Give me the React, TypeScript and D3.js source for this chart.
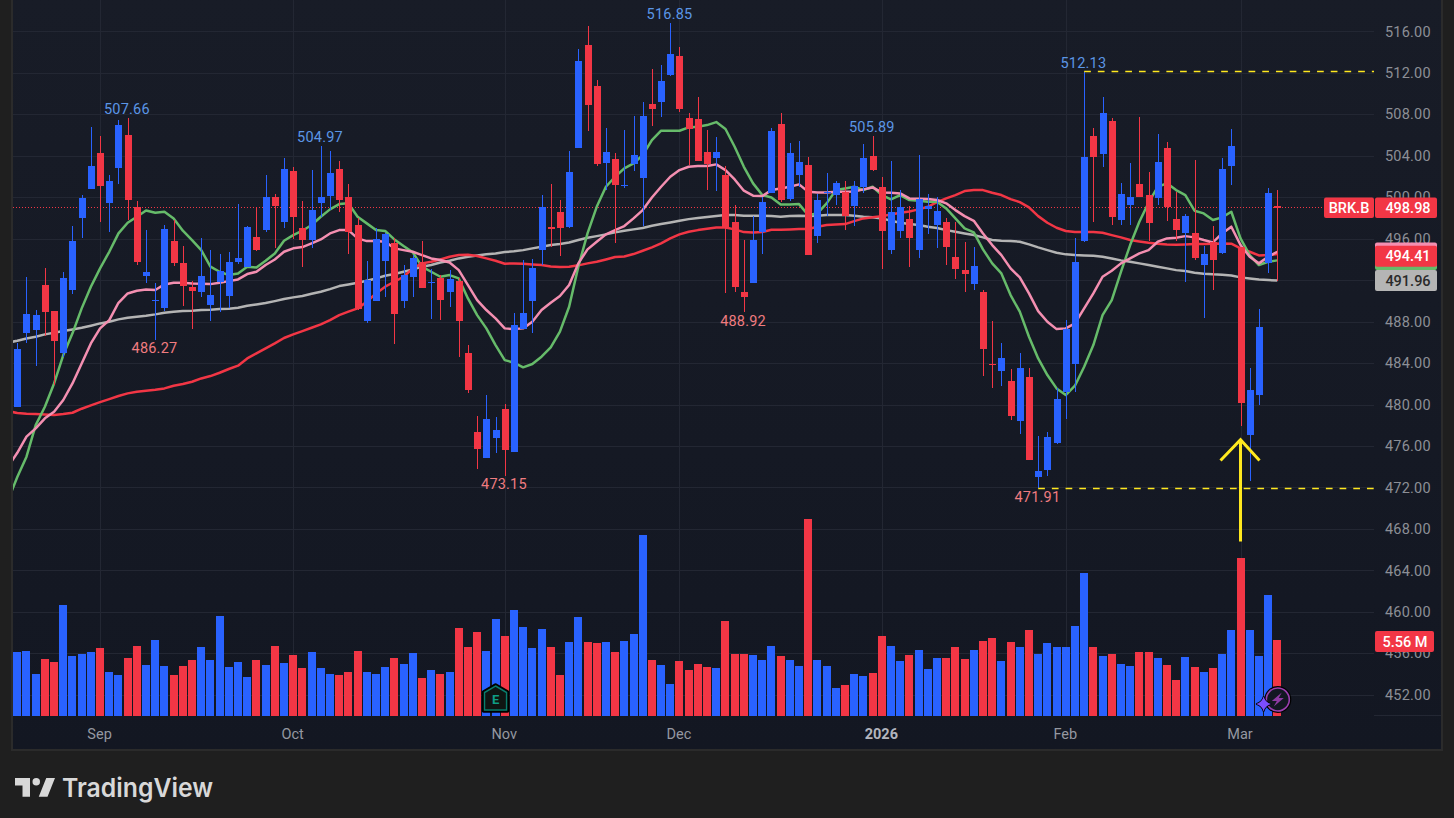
import * as d3 from "d3";
import { useEffect, useRef } from "react";

// daily candles
const opens = [479.79,486.93,487.22,491.53,488.99,485,491.08,498.02,500.82,504.23,499.47,502.85,505.97,499.02,492.43,490,489.34,495.74,493.62,491.3,490.89,489.63,491.85,490.5,493.78,493.3,496.13,496.83,499.98,497.64,502.49,496.99,495.9,499.47,500.15,502.69,499.98,497.28,488.09,490.02,493.88,495.55,490.02,492.33,493.71,491.75,492.24,490.89,491.88,484.94,477.32,474.87,476.8,479.53,475.45,487.32,490.02,494.94,497.09,498.54,497.16,504.78,514.65,510.69,503.33,503.65,501.1,503.23,501.88,508.96,509.21,511.82,513.59,507.61,507.51,504.33,503.81,502.11,497.57,490.82,491.75,496.67,500.37,507.03,499.86,502.17,503.07,496.29,500.43,500.24,500.47,499.18,500.95,503.94,500.95,494.94,496.77,497.86,494.94,498.89,497.35,497.57,494.2,492.94,491.66,490.82,483.95,483.26,482.24,478.44,482.62,473.04,473.72,476.32,481.24,483.94,495.8,505.87,504.13,507.32,497.83,499.28,501.24,500.18,499.95,504.71,497.86,496.58,496.51,493.49,495.64,494.65,502.97,495.16,477.09,480.95,493.68,499.2];
const highs = [485.9,492.27,489.12,493.14,488.99,492.75,497.19,500.18,506.77,505.9,502.11,507.41,507.66,499.6,496.8,491.69,497.28,497.8,495.26,491.91,496.03,494.87,494.49,494.68,499.31,497.19,499.02,502.11,500.27,503.75,502.88,499.6,502.59,504.97,504.42,503.46,501.24,497.96,493.81,496.99,496.51,496.03,493.43,494.39,495.74,493.04,492.46,492.94,492.17,485.71,478.89,480.89,478.76,480.02,488.8,493.91,494,500.18,501.24,499.7,504.42,514.26,516.48,511.27,506.64,504.23,506.45,507.8,509.15,512.33,512.72,516.85,514.45,508.09,509.63,506.45,505.77,502.97,499.21,495.84,498.15,499.98,506.64,508.09,505.19,505.39,503.84,500.34,502.3,501.53,501.53,501.53,505.1,505.89,501.91,503.46,500.66,499.12,504.04,500.27,499.98,497.96,497.57,495.64,495.16,491.02,488.02,485.9,483.39,484.94,483.49,476.93,477.32,481.62,488.12,496.03,512.13,506.64,509.63,507.61,501.33,503.26,507.7,502.4,506.06,505.29,500.47,498.34,503.55,495.26,497.19,503.75,506.54,495.16,483.49,489.18,500.85,500.66];
const lows = [479.79,485.9,483.75,486.64,481.88,484.62,490.66,496.06,500.82,497.64,496.67,501.3,497.8,493.46,491.75,486.27,489.02,493.39,489.53,487.32,490.4,488.09,488.96,489.34,493.59,493.23,494.84,496.67,495.1,497.03,496,493.3,495.13,498.12,498.76,498.6,494.52,489.12,487.9,490.02,490.4,485.87,489.34,490.4,491.27,488.28,488.18,489.44,484.62,481.14,473.81,474.87,475.35,473.15,475.45,487.32,486.87,493.43,495.23,494.29,497.06,504.78,506.42,502.97,500.66,495.61,500.85,502.56,497.25,506.9,507.7,511.66,508.25,503.07,503.52,500.72,500.63,490.72,490.89,488.92,491.75,494.55,500.37,499.57,499.6,501.01,494.45,495.61,498.22,499.28,496.87,497.25,500.43,502.56,493.04,494.55,496.09,493.23,494.16,496.48,495.13,493.43,492.07,490.82,491.02,482.78,481.62,481.82,478.54,477.19,474.68,471.91,473.14,476.22,478.63,481.24,495.71,497.64,502.94,497.35,497.35,497.35,499.98,495.74,499.28,497.73,495.74,491.85,493.91,488.38,491.02,494.55,501.21,477.96,472.65,479.98,492.65,491.88];
const closes = [485.35,488.73,488.6,488.96,486.16,492.2,495.74,499.89,502.97,501.11,501.53,506.93,499.76,493.78,492.75,490.1,496.9,493.68,491.46,490.98,492.36,490.53,492.85,493.71,494.1,497.09,494.9,499.98,499.18,502.69,498.12,495.9,498.73,499.98,502.3,499.76,496.67,489.18,492.01,495.93,496.45,488.76,492.46,494.1,491.27,491.83,490.11,492.07,488.09,481.43,475.74,478.57,477.54,475.64,487.64,488.8,493.14,499.02,496.96,497.06,502.4,513.1,508.92,503.23,504.33,501.21,501.18,504.04,507.8,508.54,511.17,513.78,508.54,506.61,503.52,503.23,504.33,496.99,491.37,490.4,495.84,499.5,506.35,499.76,504.23,503.36,494.45,499.7,500.51,501.33,498.22,501.05,503.75,502.65,496.77,498.54,499.02,496.09,499.79,499.18,498.63,495.23,493.1,492.62,493.33,485.39,483.87,484.45,478.92,483.49,474.68,473.55,476.83,480.5,487.25,493.71,503.84,503.84,508.09,498.06,500.27,499.98,499.98,497.54,503.36,499.02,496.87,498.15,494.1,494.49,493.97,502.69,504.9,480.18,481.37,487.44,500.37,498.98];
// volume in millions
const volumes = [4.68,4.76,3.07,4.17,3.95,8.12,4.39,4.54,4.68,4.98,3.22,3,4.24,5.12,3.73,5.56,3.66,3,3.66,4.1,5.05,4.1,7.32,3.59,3.95,2.85,4.1,3.73,5.12,3.88,4.46,3.51,4.68,3.51,3.07,3,3.22,4.76,3.22,3.07,3.59,4.24,3.8,4.61,2.78,3.37,3.07,3.22,6.44,5.05,6.15,4.76,7.1,5.85,7.76,6.51,4.98,6.37,5.05,3,5.41,7.24,5.41,5.34,5.41,4.68,5.49,6,13.24,4.1,3.73,2.34,4.02,3.37,3.8,3.59,3.51,6.95,4.54,4.54,4.46,4.1,5.12,4.39,4.1,3.66,14.41,4.1,3.66,2.05,2.27,3.07,2.93,3.15,5.85,5.12,4.02,4.46,4.83,3.44,4.24,4.24,5.05,4.17,4.83,5.49,5.71,4.02,5.41,5.05,6.29,4.54,5.34,5.05,5.05,6.59,10.46,5.05,4.39,4.54,3.8,3.66,4.68,4.68,4.24,3.73,2.63,4.32,3.59,3.22,3.51,4.54,6.29,11.56,6.29,4.39,8.85,5.56];

// moving averages, the first value sits one session left of the first candle
const maGreen = [470.79,473.01,474.97,478.02,479.79,482.04,484.78,486.87,489.28,491.37,493.14,494.74,496.51,497.54,498.12,498.73,498.51,498.6,497.96,496.77,495.87,494.9,493.3,492.81,492.49,492.65,493.3,493.23,493.88,494.58,495.8,496.35,496.77,497.32,498.12,498.83,499.34,499.41,498.12,497.48,496.83,496.74,495.93,495.29,494.68,493.3,492.81,492.33,492.49,492.17,490.24,488.63,487.35,485.74,484.29,484.04,483.59,483.91,484.62,485.52,487.03,489.44,493.3,496.51,499.08,501.01,501.98,502.78,503.26,504.07,505.52,506.42,506.42,506.42,506.74,506.8,506.96,507.25,506.58,504.87,502.94,501.34,500.21,499.98,499.31,499.31,499.34,498.28,498.44,499.41,500.69,500.85,501.01,500.69,501.01,500.21,499.79,500.21,499.73,499.66,499.57,499.57,498.92,497.96,496.99,496.61,494.97,493.62,492.65,490.56,488.96,486.54,484.45,482.85,481.56,480.92,481.82,483.65,485.74,488.63,490.08,492.81,495.39,497.64,499.47,501.01,501.34,500.69,500.21,498.7,498.44,497.8,498.06,498.6,496.03,494.42,493.46,493.78,493.91];
const maPink = [474,475.35,476.9,477.7,478.67,479.31,480.44,482.04,483.97,485.9,487.35,488.15,489.82,490.72,490.98,491.11,491.05,491.59,491.75,491.75,491.69,491.66,491.62,491.75,491.91,492.07,492.59,492.81,493.46,494,494.74,495.07,495.19,495.55,495.93,496.51,496.83,496.83,496.03,495.77,495.77,495.71,495.07,494.9,494.74,494.42,494.1,493.94,493.71,492.97,491.53,490.08,489.12,488.31,487.35,487.28,487.35,487.99,489.12,489.82,490.47,491.53,493.62,494.97,495.71,496.42,496.83,497.22,497.96,498.76,499.98,501.01,501.98,502.62,502.94,503.01,503.01,503.17,502.62,501.72,500.63,500.15,500.11,500.69,500.85,501.01,501.24,500.53,500.47,500.47,500.53,500.53,500.56,500.76,500.95,500.47,500.43,500.37,499.89,499.86,499.82,499.73,499.41,498.76,498.18,497.73,496.51,495.39,494.42,493.14,492.27,490.72,489.02,487.99,487.28,487.35,487.83,489.28,490.72,492.33,492.91,493.62,494.1,494.58,494.9,495.71,496.03,496.09,496.25,496.13,495.87,495.64,496.51,497.16,495.39,494.26,493.62,494.26,494.74];
const maGrey = [485.97,486.16,486.38,486.54,486.77,486.93,487.09,487.25,487.41,487.61,487.83,487.99,488.22,488.38,488.47,488.57,488.7,488.86,488.96,489.02,489.05,489.12,489.15,489.21,489.25,489.34,489.53,489.66,489.79,489.98,490.18,490.34,490.47,490.69,490.89,491.14,491.43,491.59,491.75,491.95,492.17,492.43,492.59,492.81,493.04,493.3,493.46,493.71,493.88,494.1,494.26,494.39,494.49,494.58,494.71,494.78,494.9,495.07,495.23,495.39,495.48,495.64,495.87,496.09,496.25,496.42,496.61,496.77,496.9,497.03,497.25,497.41,497.57,497.73,497.89,497.99,498.09,498.18,498.28,498.28,498.22,498.22,498.22,498.18,498.12,498.18,498.22,498.18,498.22,498.28,498.28,498.28,498.22,498.12,498.06,497.96,497.73,497.54,497.41,497.32,497.16,497.03,496.83,496.67,496.51,496.35,496.13,495.87,495.8,495.77,495.71,495.45,495.16,494.9,494.65,494.49,494.42,494.39,494.36,494.26,494.1,493.91,493.78,493.62,493.46,493.3,493.14,492.97,492.88,492.72,492.62,492.56,492.52,492.46,492.27,492.17,492.07,492.01,491.96];
const maRed = [479.37,479.18,479.12,479.08,479.05,478.99,479.08,479.21,479.6,479.92,480.24,480.53,480.82,481.08,481.24,481.34,481.43,481.56,481.82,481.98,482.2,482.52,482.75,483.07,483.43,483.75,484.45,484.94,485.42,485.9,486.42,486.77,487.09,487.41,487.73,488.15,488.63,488.96,489.28,489.92,490.72,491.37,491.85,492.33,493.14,493.62,493.78,494,494.26,494.42,494.45,494.33,494.1,493.88,493.59,493.62,493.59,493.52,493.46,493.33,493.26,493.3,493.43,493.62,493.78,494,494.23,494.29,494.52,494.84,495.16,495.55,496.03,496.42,496.67,496.83,496.96,497.09,497.09,496.9,496.64,496.61,496.64,496.87,496.87,496.9,496.93,496.93,497.16,497.32,497.38,497.41,497.7,497.96,498.06,498.18,498.34,498.51,498.63,498.83,499.08,499.53,499.89,500.21,500.6,500.69,500.69,500.43,500.21,499.82,499.53,499.02,498.18,497.54,497.06,496.74,496.64,496.64,496.64,496.58,496.35,496.13,495.87,495.74,495.61,495.52,495.45,495.42,495.45,495.48,495.48,495.52,495.55,495.52,495.07,494.74,494.39,494.42,494.52];

const priceTicks = [516, 512, 508, 504, 500, 496, 492, 488, 484, 480, 476, 472, 468, 464, 460, 456, 452];
const monthNames = ["Sep", "Oct", "Nov", "Dec", "2026", "Feb", "Mar"];
const monthStarts = [9, 30, 53, 72, 94, 114, 133];
const highMarks = [12, 33, 71, 93, 116];
const lowMarks = [15, 53, 79, 111];

const BLUE = "#2962ff";
const RED = "#f23645";
const YELLOW = "#ffe81f";
const FONT = "Roboto, sans-serif";

const App = () => {
  const svgRef = useRef<SVGSVGElement>(null);

  useEffect(() => {
    const svg = d3.select(svgRef.current);
    svg.selectAll("*").remove();

    const plot = { left: 13, right: 1374, top: 0, bottom: 716, axisRight: 1441, frameBottom: 750 };

    const x = d3.scaleLinear().domain([0, opens.length - 1]).range([17.3, 1277.3]);
    const y = d3.scaleLinear().domain([516, 452]).range([31.4, 694.8]);
    const vol = d3.scaleLinear().domain([0, d3.max(volumes) as number]).range([716, 519]);

    const defs = svg.append("defs");
    const grad = defs
      .append("linearGradient")
      .attr("id", "paneBg")
      .attr("x1", 0)
      .attr("x2", 0)
      .attr("y1", 0)
      .attr("y2", 1);
    grad.append("stop").attr("offset", 0).attr("stop-color", "#181c27");
    grad.append("stop").attr("offset", 1).attr("stop-color", "#131722");
    defs
      .append("clipPath")
      .attr("id", "plotClip")
      .append("rect")
      .attr("x", plot.left)
      .attr("y", 0)
      .attr("width", plot.right - plot.left)
      .attr("height", plot.bottom);

    // page and pane
    svg.append("rect").attr("width", 1454).attr("height", 818).attr("fill", "#1f1f1f");
    svg
      .append("rect")
      .attr("x", plot.left - 1)
      .attr("y", -2)
      .attr("width", plot.axisRight - plot.left + 2)
      .attr("height", plot.frameBottom + 2)
      .attr("fill", "url(#paneBg)")
      .attr("stroke", "#2b2b2b")
      .attr("stroke-width", 2);

    // grid
    const grid = svg.append("g").attr("stroke", "#232733").attr("stroke-width", 1).attr("shape-rendering", "crispEdges");
    grid
      .selectAll("line.h")
      .data(priceTicks)
      .enter()
      .append("line")
      .attr("x1", plot.left)
      .attr("x2", plot.right)
      .attr("y1", (d) => Math.round(y(d)) + 0.5)
      .attr("y2", (d) => Math.round(y(d)) + 0.5);
    grid
      .selectAll("line.v")
      .data(monthStarts)
      .enter()
      .append("line")
      .attr("x1", (d) => Math.round(x(d)) + 0.5)
      .attr("x2", (d) => Math.round(x(d)) + 0.5)
      .attr("y1", 0)
      .attr("y2", plot.bottom);
    svg
      .append("line")
      .attr("x1", plot.right)
      .attr("x2", plot.axisRight)
      .attr("y1", 715.5)
      .attr("y2", 715.5)
      .attr("stroke", "#232733");

    const chart = svg.append("g").attr("clip-path", "url(#plotClip)");
    const isUp = (i: number) => closes[i] >= opens[i];
    const idx = d3.range(opens.length);

    // volume bars
    chart
      .selectAll(".vol")
      .data(idx)
      .enter()
      .append("rect")
      .attr("class", "vol")
      .attr("x", (i) => Math.round(x(i) - 4))
      .attr("y", (i) => vol(volumes[i]))
      .attr("width", 8)
      .attr("height", (i) => 716 - vol(volumes[i]))
      .attr("fill", (i) => (isUp(i) ? BLUE : RED))
      .attr("shape-rendering", "crispEdges");

    // last price line
    chart
      .append("line")
      .attr("x1", plot.left)
      .attr("x2", plot.right)
      .attr("y1", Math.round(y(closes[closes.length - 1])) - 0.5)
      .attr("y2", Math.round(y(closes[closes.length - 1])) - 0.5)
      .attr("stroke", RED)
      .attr("stroke-width", 1)
      .attr("stroke-dasharray", "1 2");

    // moving averages
    const maLine = d3
      .line<number>()
      .x((_, i) => x(i - 1))
      .y((d) => y(d));
    const maSeries: [number[], string][] = [
      [maGrey, "#b4b4b4"],
      [maRed, RED],
      [maGreen, "#66bb6a"],
      [maPink, "#f48fb1"],
    ];
    maSeries.forEach(([values, color]) => {
      chart
        .append("path")
        .attr("d", maLine(values))
        .attr("fill", "none")
        .attr("stroke", color)
        .attr("stroke-width", 2.5)
        .attr("stroke-linejoin", "round");
    });

    // candles
    const candle = chart
      .selectAll(".candle")
      .data(idx)
      .enter()
      .append("g")
      .attr("class", "candle")
      .attr("shape-rendering", "crispEdges")
      .attr("fill", (i) => (isUp(i) ? BLUE : RED));
    candle
      .append("rect")
      .attr("x", (i) => Math.round(x(i)))
      .attr("width", 1)
      .attr("y", (i) => y(highs[i]))
      .attr("height", (i) => y(lows[i]) - y(highs[i]));
    candle
      .append("rect")
      .attr("x", (i) => Math.round(x(i)) - 3)
      .attr("width", 7)
      .attr("y", (i) => y(Math.max(opens[i], closes[i])))
      .attr("height", (i) => Math.max(1, Math.abs(y(opens[i]) - y(closes[i]))));

    // drawn levels from the swing high and low
    const levels: [number, number][] = [
      [116, 512.13],
      [111, 471.91],
    ];
    svg
      .selectAll(".level")
      .data(levels)
      .enter()
      .append("line")
      .attr("class", "level")
      .attr("x1", (d) => x(d[0]))
      .attr("x2", plot.right)
      .attr("y1", (d) => Math.floor(y(d[1])) + 0.5)
      .attr("y2", (d) => Math.floor(y(d[1])) + 0.5)
      .attr("stroke", YELLOW)
      .attr("stroke-width", 1.3)
      .attr("stroke-dasharray", "6.7 7");

    // arrow
    const arrowX = x(133);
    const arrowTop = y(476.6);
    svg
      .append("path")
      .attr("d", `M${arrowX},541.5V${arrowTop}M${arrowX - 20},460.5L${arrowX},${arrowTop}L${arrowX + 19},460.5`)
      .attr("fill", "none")
      .attr("stroke", YELLOW)
      .attr("stroke-width", 3);

    // high and low labels
    svg
      .selectAll(".hi")
      .data(highMarks)
      .enter()
      .append("text")
      .attr("x", (i) => x(i) - 0.8)
      .attr("y", (i) => y(highs[i]) - 9)
      .attr("dy", "0.35em")
      .attr("text-anchor", "middle")
      .attr("font-family", FONT)
      .attr("font-size", 14.5)
      .attr("letter-spacing", 0.2)
      .attr("fill", "#5b96e6")
      .text((i) => highs[i].toFixed(2));
    svg
      .selectAll(".lo")
      .data(lowMarks)
      .enter()
      .append("text")
      .attr("x", (i) => x(i) - 0.8)
      .attr("y", (i) => y(lows[i]) + 8.5)
      .attr("dy", "0.35em")
      .attr("text-anchor", "middle")
      .attr("font-family", FONT)
      .attr("font-size", 14.5)
      .attr("letter-spacing", 0.2)
      .attr("fill", "#f07c80")
      .text((i) => lows[i].toFixed(2));

    // price axis
    const priceAxis = svg
      .append("g")
      .attr("transform", `translate(${plot.right},0)`)
      .call(
        d3
          .axisRight(y)
          .tickValues(priceTicks)
          .tickSize(0)
          .tickPadding(11)
          .tickFormat((d) => d3.format(".2f")(d as number))
      );
    priceAxis.select(".domain").remove();
    priceAxis
      .selectAll("text")
      .attr("font-family", FONT)
      .attr("font-size", 14.5)
      .attr("letter-spacing", 0.2)
      .attr("fill", "#8c8f96");

    // time axis
    svg
      .selectAll(".month")
      .data(monthStarts)
      .enter()
      .append("text")
      .attr("x", (d) => x(d) - 0.5)
      .attr("y", 733.5)
      .attr("dy", "0.35em")
      .attr("text-anchor", "middle")
      .attr("font-family", FONT)
      .attr("font-size", 14.5)
      .attr("font-weight", (_, i) => (monthNames[i] === "2026" ? 700 : 400))
      .attr("fill", (_, i) => (monthNames[i] === "2026" ? "#b2b5be" : "#9598a1"))
      .text((_, i) => monthNames[i]);

    // price tags on the right
    const tag = (tx: number, tw: number, ty: number, th: number, fill: string) =>
      svg.append("rect").attr("x", tx).attr("y", ty).attr("width", tw).attr("height", th).attr("rx", 2).attr("fill", fill);
    const tagText = (cx: number, cy: number, label: string, fill: string) =>
      svg
        .append("text")
        .attr("x", cx)
        .attr("y", cy)
        .attr("dy", "0.35em")
        .attr("text-anchor", "middle")
        .attr("font-family", FONT)
        .attr("font-size", 14.5)
        .attr("font-weight", 500)
        .attr("fill", fill)
        .text(label);

    tag(1324, 50, 197.5, 20.5, RED);
    tag(1375, 62, 197.5, 20.5, RED);
    tagText(1349, 207.8, "BRK.B", "#ffffff");
    tagText(1408, 207.8, closes[closes.length - 1].toFixed(2), "#ffffff");

    tag(1375, 62, 242.5, 20, "#f48fb1");
    tag(1375, 62, 250, 20, "#66bb6a");
    tag(1375, 62, 245.7, 21, RED);
    tagText(1408, 256.3, "494.41", "#ffffff");
    tag(1375, 62, 270, 21, "#b5b5b5");
    tagText(1408, 281, maGrey[maGrey.length - 1].toFixed(2), "#2a2a2a");

    tag(1375, 59, 631, 21, RED);
    tagText(1405, 641.5, `${volumes[volumes.length - 1].toFixed(2)} M`, "#ffffff");

    // earnings badge
    const badge = svg.append("g").attr("transform", `translate(${x(52)},698)`);
    badge
      .append("path")
      .attr("d", "M0,-13L12,-6V13H-12V-6Z")
      .attr("fill", "#0f1512")
      .attr("stroke", "#000000")
      .attr("stroke-width", 3.5)
      .attr("stroke-linejoin", "round");
    badge
      .append("path")
      .attr("d", "M0,-12L11,-5.5V12H-11V-5.5Z")
      .attr("fill", "none")
      .attr("stroke", "#0a7d6c")
      .attr("stroke-width", 1.5);
    badge
      .append("text")
      .attr("y", 1)
      .attr("dy", "0.35em")
      .attr("text-anchor", "middle")
      .attr("font-family", FONT)
      .attr("font-size", 13)
      .attr("font-weight", 700)
      .attr("fill", "#0f9d85")
      .text("E");

    // news badge with star
    const bolt = svg.append("g").attr("transform", `translate(${x(137) + 0.5},699.5)`);
    bolt.append("circle").attr("r", 13.5).attr("fill", "#000000");
    bolt.append("circle").attr("r", 11.5).attr("fill", "#131722").attr("stroke", "#9c3fb0").attr("stroke-width", 1.6);
    bolt.append("path").attr("d", "M4,-7L-6,1.5H-1L-4,7L6,-1.5H1Z").attr("fill", "#8e3aa3");
    svg
      .append("path")
      .attr("transform", `translate(${x(136) - 4.5},704)`)
      .attr("d", "M0,-7.5Q1.5,-1.5 7.5,0Q1.5,1.5 0,7.5Q-1.5,1.5 -7.5,0Q-1.5,-1.5 0,-7.5Z")
      .attr("fill", "#7c4dff")
      .attr("stroke", "#000000")
      .attr("stroke-width", 1.5)
      .attr("paint-order", "stroke");

    // footer logo
    svg
      .append("path")
      .attr("transform", "translate(12.5,770.5) scale(1.25)")
      .attr("d", "M14 6H2v6h6v9h6V6Zm14 15h-7l6-15h7l-6 15Zm-6-12a3 3 0 1 1-6 0 3 3 0 0 1 6 0Z")
      .attr("fill", "#d8d8d8");
    svg
      .append("text")
      .attr("x", 62)
      .attr("y", 797)
      .attr("font-family", "Inter, sans-serif")
      .attr("font-size", 26)
      .attr("font-weight", 600)
      .attr("textLength", 151)
      .attr("lengthAdjust", "spacingAndGlyphs")
      .attr("fill", "#d8d8d8")
      .text("TradingView");
  }, []);

  return <svg ref={svgRef} width={1454} height={818} style={{ position: "fixed", left: 0, top: 0 }} />;
};

export default App;
